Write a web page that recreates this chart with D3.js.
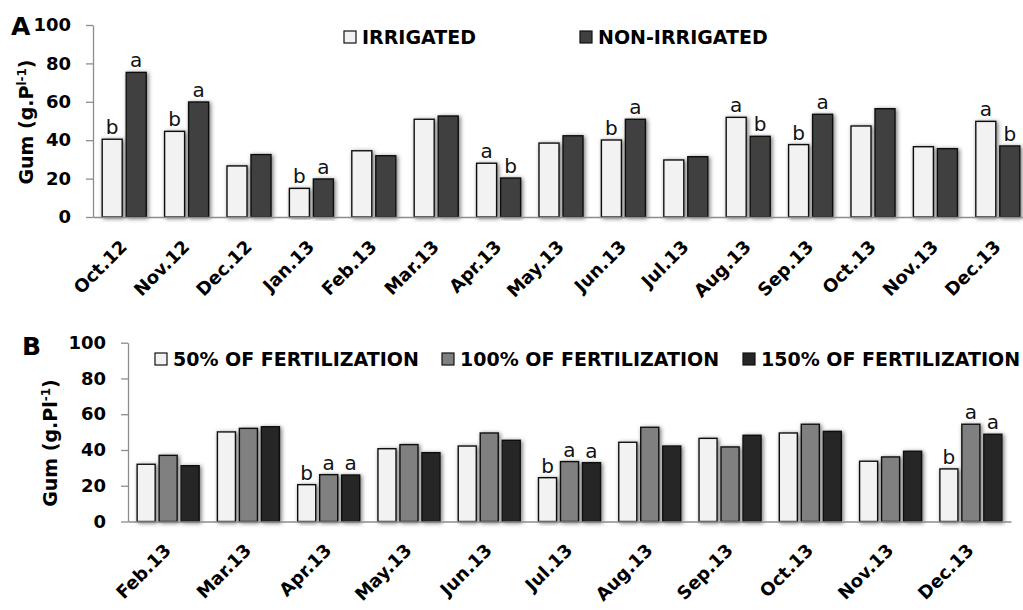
<!DOCTYPE html>
<html>
<head>
<meta charset="utf-8">
<script src="https://cdn.jsdelivr.net/npm/d3@7"></script>
<style>
  html, body { margin: 0; padding: 0; background: #fff; }
  svg { display: block; font-family: "DejaVu Sans", sans-serif; }
</style>
</head>
<body>
<svg id="chart" width="1023" height="610"></svg>
<script>
// ---------- Data ----------
const monthsA = ["Oct.12","Nov.12","Dec.12","Jan.13","Feb.13","Mar.13","Apr.13","May.13","Jun.13","Jul.13","Aug.13","Sep.13","Oct.13","Nov.13","Dec.13"];
const seriesA = ["IRRIGATED","NON-IRRIGATED"];
const irrigated    = [40.5, 44.6, 26.6, 14.9, 34.5, 50.9, 28.0, 38.5, 40.1, 29.7, 51.9, 37.7, 47.4, 36.6, 49.8];
const nonIrrigated = [75.3, 59.9, 32.5, 19.8, 31.9, 52.6, 20.3, 42.3, 50.9, 31.4, 42.0, 53.5, 56.4, 35.6, 37.0];
const lettersIrr   = ["b","b","","b","","","a","","b","","a","b","","","a"];
const lettersNon   = ["a","a","","a","","","b","","a","","b","a","","","b"];

const monthsB = ["Feb.13","Mar.13","Apr.13","May.13","Jun.13","Jul.13","Aug.13","Sep.13","Oct.13","Nov.13","Dec.13"];
const seriesB = ["50% OF FERTILIZATION","100% OF FERTILIZATION","150% OF FERTILIZATION"];
const fert50  = [32.0, 50.1, 20.6, 40.7, 42.2, 24.5, 44.3, 46.5, 49.5, 33.7, 29.4];
const fert100 = [37.0, 52.1, 26.2, 43.0, 49.5, 33.5, 52.7, 41.7, 54.4, 36.1, 54.4];
const fert150 = [31.2, 53.0, 26.0, 38.5, 45.4, 32.9, 42.2, 48.2, 50.4, 39.3, 48.8];
const letters50  = ["","","b","","","b","","","","","b"];
const letters100 = ["","","a","","","a","","","","","a"];
const letters150 = ["","","a","","","a","","","","","a"];

const yTicks = [0, 20, 40, 60, 80, 100];

// ---------- Setup ----------
const svg = d3.select("#chart");
const defs = svg.append("defs");
const f = defs.append("filter").attr("id","shadow").attr("x","-40%").attr("y","-10%").attr("width","180%").attr("height","120%");
f.append("feDropShadow").attr("dx",1.5).attr("dy",1).attr("stdDeviation",2.2)
  .attr("flood-color","#000").attr("flood-opacity",0.55);

const axisColor = "#8c8c8c";

function panel(opts) {
  const g = svg.append("g");
  const x0 = d3.scaleBand().domain(opts.months).range(opts.xRange).paddingInner(0).paddingOuter(0);
  const step = x0.bandwidth();
  const x1 = d3.scaleBand().domain(opts.series)
    .range([(step - opts.groupW) / 2, (step + opts.groupW) / 2])
    .paddingInner(opts.innerPad).paddingOuter(0);
  const y = d3.scaleLinear().domain([0, 100]).range(opts.yRange);

  // y axis
  const ya = g.append("g").attr("transform", `translate(${opts.xRange[0]},0)`)
    .call(d3.axisLeft(y).tickValues(yTicks).tickSize(7).tickSizeOuter(0).tickPadding(opts.tickPad));
  ya.select(".domain").attr("stroke", axisColor).attr("stroke-width", 1.3);
  ya.selectAll(".tick line").attr("stroke", axisColor).attr("stroke-width", 1.3);
  ya.selectAll(".tick text").attr("font-size", 18).attr("font-weight", "bold")
    .attr("fill", "#000").attr("font-family", "DejaVu Sans");

  // bars
  const data = opts.months.map((m, i) => ({
    m, vals: opts.series.map((s, k) => ({ s, k, v: opts.values[k][i], l: opts.letters[k][i] }))
  }));
  const grp = g.selectAll(".grp").data(data).join("g")
    .attr("transform", d => `translate(${x0(d.m)},0)`);
  grp.selectAll("rect").data(d => d.vals).join("rect")
    .attr("x", d => x1(d.s))
    .attr("y", d => y(d.v))
    .attr("width", x1.bandwidth())
    .attr("height", d => y(0) - y(d.v))
    .attr("fill", d => opts.colors[d.k])
    .attr("stroke", "#111").attr("stroke-width", 1.4)
    .attr("filter", "url(#shadow)");
  grp.selectAll("text.lbl").data(d => d.vals.filter(v => v.l)).join("text")
    .attr("class", "lbl")
    .attr("x", d => x1(d.s) + x1.bandwidth() / 2)
    .attr("y", d => y(d.v) - 5)
    .attr("text-anchor", "middle")
    .attr("font-size", 20)
    .attr("font-family", "DejaVu Sans")
    .attr("fill", "#111")
    .text(d => d.l);

  // x axis
  const xa = g.append("g").attr("transform", `translate(0,${opts.yRange[0]})`)
    .call(d3.axisBottom(x0).tickSize(0).tickSizeOuter(0));
  xa.select(".domain").attr("stroke", axisColor).attr("stroke-width", 1.3);
  xa.selectAll(".tick text")
    .attr("y", 0).attr("dy", 0).attr("x", 0)
    .attr("text-anchor", "end")
    .attr("transform", `translate(4,${opts.labelDy}) rotate(-45)`)
    .attr("font-size", 18).attr("font-weight", "bold")
    .attr("fill", "#000").attr("font-family", "DejaVu Sans");

  // y title
  const t = g.append("text")
    .attr("transform", `translate(${opts.titleX},${opts.titleY}) rotate(-90)`)
    .attr("text-anchor", "middle")
    .attr("font-size", 19).attr("font-weight", "bold").attr("fill", "#000");
  t.append("tspan").text(opts.titleMain);
  t.append("tspan").attr("baseline-shift", "super").attr("font-size", 12).text(opts.titleSup);
  t.append("tspan").text(")");

  // panel letter
  g.append("text").attr("x", opts.letterX).attr("y", opts.letterY)
    .attr("font-size", opts.letterSize).attr("font-weight", "bold").attr("fill", "#000")
    .text(opts.panelLetter);

  // legend
  const lg = g.selectAll(".leg").data(opts.series).join("g")
    .attr("transform", (d, i) => `translate(${opts.legendX[i]},${opts.legendY})`);
  lg.append("rect").attr("x", 0).attr("y", -13).attr("width", 12).attr("height", 12)
    .attr("fill", (d, i) => opts.colors[i]).attr("stroke", "#111").attr("stroke-width", 1.2);
  lg.append("text").attr("x", 18).attr("y", 0)
    .attr("font-size", 19).attr("font-weight", "bold").attr("fill", "#000")
    .text(d => d);
}

panel({
  months: monthsA, series: seriesA,
  values: [irrigated, nonIrrigated], letters: [lettersIrr, lettersNon],
  colors: ["#f2f2f2", "#404040"],
  xRange: [93, 1029], yRange: [217, 25],
  groupW: 44, innerPad: 0.167, tickPad: 15, labelDy: 31,
  titleMain: "Gum (g.P", titleSup: "l-1", titleX: 33, titleY: 122,
  panelLetter: "A", letterX: 11, letterY: 35, letterSize: 25,
  legendX: [344, 580], legendY: 44
});

panel({
  months: monthsB, series: seriesB,
  values: [fert50, fert100, fert150], letters: [letters50, letters100, letters150],
  colors: ["#f2f2f2", "#808080", "#262626"],
  xRange: [128, 1011], yRange: [521.5, 342.7],
  groupW: 62, innerPad: 0.18, tickPad: 15, labelDy: 30,
  titleMain: "Gum (g.Pl", titleSup: "-1", titleX: 57, titleY: 443,
  panelLetter: "B", letterX: 22, letterY: 355, letterSize: 25,
  legendX: [155, 442, 743], legendY: 366
});
</script>
</body>
</html>
